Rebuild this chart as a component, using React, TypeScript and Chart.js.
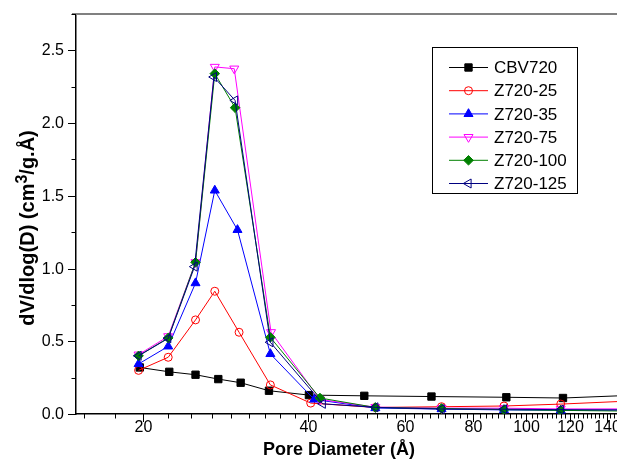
import React, { useEffect, useRef } from 'react';
import { Chart, registerables } from 'chart.js';
import { drawPoint } from 'chart.js/helpers';

Chart.register(...registerables);

// ---- data ----
const seriesNames = ['CBV720', 'Z720-25', 'Z720-35', 'Z720-75', 'Z720-100', 'Z720-125'];

const cbvX = [19.7, 22.3, 24.9, 27.4, 30.1, 33.9, 40.1, 50.6, 67.1, 91.9, 116.6, 152];
const cbvY = [0.32, 0.29, 0.27, 0.24, 0.215, 0.16, 0.13, 0.125, 0.12, 0.115, 0.11, 0.127];

const z25X = [19.6, 22.2, 24.9, 27.0, 29.9, 34.1, 40.4, 53.0, 70.0, 91.0, 115.5, 152];
const z25Y = [0.30, 0.39, 0.647, 0.844, 0.562, 0.20, 0.075, 0.045, 0.05, 0.055, 0.068, 0.088];

const z35X = [19.6, 22.2, 24.9, 27.0, 29.7, 34.1, 41.0, 53.0, 70.0, 91.0, 115.5, 152];
const z35Y = [0.344, 0.465, 0.90, 1.537, 1.266, 0.413, 0.10, 0.041, 0.034, 0.028, 0.025, 0.028];

const z75X = [19.6, 22.2, 24.9, 27.0, 29.3, 34.2, 42.0, 53.0, 70.0, 91.0, 115.5, 152];
const z75Y = [0.408, 0.534, 1.043, 2.386, 2.374, 0.562, 0.10, 0.047, 0.04, 0.04, 0.035, 0.035];

const z100X = [19.6, 22.2, 24.9, 27.0, 29.4, 34.1, 42.0, 53.0, 70.0, 91.0, 115.5, 152];
const z100Y = [0.40, 0.523, 1.043, 2.34, 2.106, 0.527, 0.11, 0.045, 0.038, 0.03, 0.025, 0.02];

const z125X = [19.6, 22.2, 24.8, 26.9, 29.4, 34.1, 42.5, 53.0, 70.0, 91.0, 115.5, 152];
const z125Y = [0.40, 0.52, 1.013, 2.317, 2.156, 0.493, 0.07, 0.046, 0.034, 0.033, 0.03, 0.028];

const xMajorLabels = [20, 40, 60, 80, 100, 120, 140];
const yMajorLabels = [0, 0.5, 1.0, 1.5, 2.0, 2.5];

const FONT = '"Liberation Sans", Arial, sans-serif';

const styles = [
  { color: '#000000', pointStyle: 'rect', radius: 5.2, rotation: 0, fill: '#000000' },
  { color: '#ff0000', pointStyle: 'circle', radius: 4, rotation: 0, fill: 'rgba(0,0,0,0)' },
  { color: '#0000ff', pointStyle: 'triangle', radius: 5.2, rotation: 0, fill: '#0000ff' },
  { color: '#ff00ff', pointStyle: 'triangle', radius: 5.2, rotation: 180, fill: 'rgba(0,0,0,0)' },
  { color: '#008000', pointStyle: 'rectRot', radius: 4.8, rotation: 0, fill: '#008000' },
  { color: '#000080', pointStyle: 'triangle', radius: 5.2, rotation: -90, fill: 'rgba(0,0,0,0)' },
];

const seriesX = [cbvX, z25X, z35X, z75X, z100X, z125X];
const seriesY = [cbvY, z25Y, z35Y, z75Y, z100Y, z125Y];

function isNear(v: number, list: number[], tol: number) {
  return list.some((m) => Math.abs(m - v) < tol);
}

const frameAndTicks = {
  id: 'frameAndTicks',
  afterDraw(chart: any) {
    const { ctx, chartArea } = chart;
    const xs = chart.scales.x;
    const ys = chart.scales.y;
    ctx.save();
    // top frame line
    ctx.strokeStyle = '#808080';
    ctx.lineWidth = 2;
    ctx.beginPath();
    ctx.moveTo(chartArea.left - 4, chartArea.top);
    ctx.lineTo(chartArea.right, chartArea.top);
    ctx.stroke();
    // x ticks + labels
    ctx.strokeStyle = '#000';
    ctx.fillStyle = '#000';
    ctx.lineWidth = 1;
    ctx.font = `16px ${FONT}`;
    ctx.textAlign = 'center';
    ctx.textBaseline = 'middle';
    xs.ticks.forEach((t: any) => {
      const px = Math.round(xs.getPixelForValue(t.value)) + 0.5;
      const major = xMajorLabels.find((m) => Math.abs(m - t.value) < 0.01);
      const len = major !== undefined ? 8 : 4.5;
      ctx.beginPath();
      ctx.moveTo(px, chartArea.bottom);
      ctx.lineTo(px, chartArea.bottom + len);
      ctx.stroke();
      if (major !== undefined) ctx.fillText(String(major), px, chartArea.bottom + 14);
    });
    ctx.textAlign = 'right';
    ys.ticks.forEach((t: any) => {
      const py = Math.round(ys.getPixelForValue(t.value)) + 0.5;
      const major = isNear(t.value, yMajorLabels, 0.001);
      const len = major ? 8 : 4.5;
      ctx.beginPath();
      ctx.moveTo(chartArea.left, py);
      ctx.lineTo(chartArea.left - len, py);
      ctx.stroke();
      if (major) ctx.fillText(Number(t.value).toFixed(1), chartArea.left - 12, py);
    });
    // axis titles
    ctx.fillStyle = '#000';
    ctx.font = `bold 18px ${FONT}`;
    ctx.textAlign = 'center';
    ctx.textBaseline = 'alphabetic';
    ctx.fillText('Pore Diameter (Å)', 339, 455);

    // y title with superscript
    const p1 = 'dV/dlog(D) (cm';
    const p2 = '3';
    const p3 = '/g.Å)';
    const mainFont = `bold 20px ${FONT}`;
    const supFont = `bold 16px ${FONT}`;
    ctx.font = mainFont;
    const w1 = ctx.measureText(p1).width;
    const w3 = ctx.measureText(p3).width;
    ctx.font = supFont;
    const w2 = ctx.measureText(p2).width;
    const total = w1 + w2 + w3;
    ctx.translate(34, 228);
    ctx.rotate(-Math.PI / 2);
    ctx.textAlign = 'left';
    let cx = -total / 2;
    ctx.font = mainFont;
    ctx.fillText(p1, cx, 0);
    cx += w1;
    ctx.font = supFont;
    ctx.fillText(p2, cx, -7);
    cx += w2;
    ctx.font = mainFont;
    ctx.fillText(p3, cx, 0);
    ctx.restore();

    // legend box
    ctx.save();
    const bx = 432.5, by = 47.5, bw = 145, bh = 146;
    ctx.strokeStyle = '#000';
    ctx.lineWidth = 1;
    ctx.fillStyle = '#fff';
    ctx.fillRect(bx, by, bw, bh);
    ctx.strokeRect(bx, by, bw, bh);
    ctx.font = `17px ${FONT}`;
    ctx.textBaseline = 'middle';
    ctx.textAlign = 'left';
    chart.data.datasets.forEach((ds: any, i: number) => {
      const st = styles[i];
      const yy = 67.5 + i * 23.2;
      ctx.strokeStyle = st.color;
      ctx.lineWidth = 1;
      ctx.beginPath();
      ctx.moveTo(449, yy);
      ctx.lineTo(488, yy);
      ctx.stroke();
      ctx.fillStyle = st.fill;
      ctx.strokeStyle = st.color;
      drawPoint(ctx, { pointStyle: st.pointStyle, radius: st.radius, rotation: st.rotation, borderWidth: 1 } as any, 468.5, yy);
      ctx.fillStyle = '#000';
      ctx.fillText(ds.label, 494, yy + 1);
    });
    ctx.restore();
  },
};

export default function App() {
  const ref = useRef<HTMLCanvasElement>(null);
  useEffect(() => {
    if (!ref.current) return;
    const datasets = seriesNames.map((name, i) => ({
      label: name,
      data: seriesX[i].map((x, j) => ({ x, y: seriesY[i][j] })),
      borderColor: styles[i].color,
      backgroundColor: styles[i].fill,
      pointBorderColor: styles[i].color,
      pointBackgroundColor: styles[i].fill,
      pointStyle: styles[i].pointStyle,
      pointRadius: styles[i].radius,
      pointRotation: styles[i].rotation,
      pointBorderWidth: 1,
      borderWidth: 1,
      tension: 0,
      fill: false,
      order: 5 - i,
    }));
    const chart = new Chart(ref.current, {
      type: 'line',
      data: { datasets },
      plugins: [frameAndTicks],
      options: {
        responsive: false,
        animation: false,
        devicePixelRatio: 1,
        layout: { autoPadding: false, padding: { top: 14, left: 0, right: 0, bottom: 0 } },
        plugins: { legend: { display: false }, tooltip: { enabled: false } },
        scales: {
          x: {
            type: 'logarithmic',
            min: 15.07,
            max: 146.3,
            afterBuildTicks: (scale: any) => {
              const arr: any[] = [];
              for (let k = 7; k <= 65; k++) {
                const v = (k * 20) / 9;
                arr.push({ value: v, major: k % 9 === 0 });
              }
              scale.ticks = arr;
            },
            afterFit: (scale: any) => {
              scale.height = 47;
            },
            grid: { display: false, drawTicks: false },
            border: { display: true, color: '#000', width: 1.5 },
            ticks: { display: false },
          },
          y: {
            type: 'linear',
            min: 0,
            max: 2.75,
            afterBuildTicks: (scale: any) => {
              const arr: any[] = [];
              for (let k = 0; k <= 11; k++) arr.push({ value: k * 0.25 });
              scale.ticks = arr;
            },
            afterFit: (scale: any) => {
              scale.width = 76;
            },
            grid: { display: false, drawTicks: false },
            border: { display: true, color: '#000', width: 1.5 },
            ticks: { display: false },
          },
        },
      },
    });
    return () => chart.destroy();
  }, []);
  return (
    <div style={{ position: 'fixed', left: 0, top: 0, width: 617, height: 461, background: '#fff' }}>
      <canvas ref={ref} width={617} height={461} style={{ width: 617, height: 461, display: 'block' }} />
    </div>
  );
}
